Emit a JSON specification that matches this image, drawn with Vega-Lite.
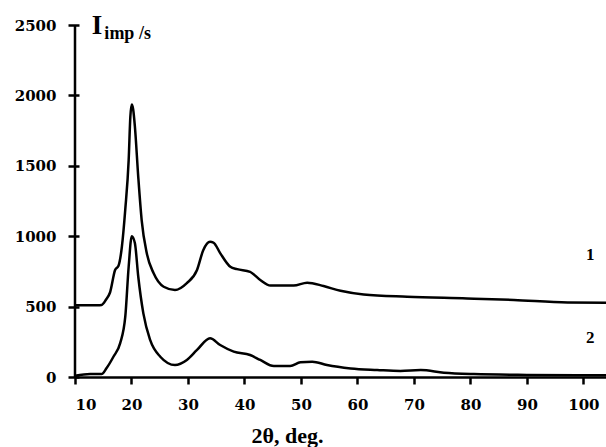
{
  "$schema": "https://vega.github.io/schema/vega-lite/v6.json",
  "width": 531,
  "height": 352,
  "autosize": "none",
  "padding": {"left": 75, "top": 25, "right": 0, "bottom": 70},
  "background": "white",
  "config": {
    "view": {"stroke": null},
    "axis": {
      "grid": false,
      "domainColor": "black",
      "domainWidth": 2.5,
      "tickColor": "black",
      "tickWidth": 2.5,
      "tickSize": 7,
      "labelFont": "DejaVu Serif",
      "labelFontWeight": "bold",
      "labelFontSize": 15,
      "labelColor": "black",
      "titleFont": "Liberation Serif",
      "titleFontWeight": "bold",
      "titleColor": "black"
    }
  },
  "datasets": {
    "curves": [
      {"angle": 10, "intensity": 510, "curve": "1"},
      {"angle": 12, "intensity": 510, "curve": "1"},
      {"angle": 14, "intensity": 510, "curve": "1"},
      {"angle": 14.7, "intensity": 512, "curve": "1"},
      {"angle": 15.5, "intensity": 550, "curve": "1"},
      {"angle": 16.2, "intensity": 600, "curve": "1"},
      {"angle": 17.1, "intensity": 760, "curve": "1"},
      {"angle": 17.7, "intensity": 790, "curve": "1"},
      {"angle": 18.3, "intensity": 925, "curve": "1"},
      {"angle": 18.9, "intensity": 1190, "curve": "1"},
      {"angle": 19.5, "intensity": 1540, "curve": "1"},
      {"angle": 19.8, "intensity": 1850, "curve": "1"},
      {"angle": 20.05, "intensity": 1935, "curve": "1"},
      {"angle": 20.3, "intensity": 1900, "curve": "1"},
      {"angle": 20.6, "intensity": 1780, "curve": "1"},
      {"angle": 21.2, "intensity": 1420, "curve": "1"},
      {"angle": 21.8, "intensity": 1115, "curve": "1"},
      {"angle": 22.7, "intensity": 880, "curve": "1"},
      {"angle": 23.9, "intensity": 738, "curve": "1"},
      {"angle": 25.7, "intensity": 641, "curve": "1"},
      {"angle": 27.7, "intensity": 618, "curve": "1"},
      {"angle": 29.8, "intensity": 667, "curve": "1"},
      {"angle": 31.6, "intensity": 760, "curve": "1"},
      {"angle": 32.7, "intensity": 900, "curve": "1"},
      {"angle": 33.9, "intensity": 960, "curve": "1"},
      {"angle": 34.5, "intensity": 955, "curve": "1"},
      {"angle": 35.7, "intensity": 880, "curve": "1"},
      {"angle": 37.5, "intensity": 783, "curve": "1"},
      {"angle": 38.7, "intensity": 766, "curve": "1"},
      {"angle": 41, "intensity": 747, "curve": "1"},
      {"angle": 42.8, "intensity": 689, "curve": "1"},
      {"angle": 44.6, "intensity": 649, "curve": "1"},
      {"angle": 48.7, "intensity": 649, "curve": "1"},
      {"angle": 51.1, "intensity": 670, "curve": "1"},
      {"angle": 54, "intensity": 646, "curve": "1"},
      {"angle": 57, "intensity": 612, "curve": "1"},
      {"angle": 61.1, "intensity": 586, "curve": "1"},
      {"angle": 68.8, "intensity": 570, "curve": "1"},
      {"angle": 79.4, "intensity": 558, "curve": "1"},
      {"angle": 87.7, "intensity": 547, "curve": "1"},
      {"angle": 97.2, "intensity": 530, "curve": "1"},
      {"angle": 104, "intensity": 528, "curve": "1"},
      {"angle": 10, "intensity": 9, "curve": "2"},
      {"angle": 12.7, "intensity": 21, "curve": "2"},
      {"angle": 14.7, "intensity": 21, "curve": "2"},
      {"angle": 15.6, "intensity": 64, "curve": "2"},
      {"angle": 16.8, "intensity": 144, "curve": "2"},
      {"angle": 18, "intensity": 241, "curve": "2"},
      {"angle": 18.9, "intensity": 428, "curve": "2"},
      {"angle": 19.5, "intensity": 783, "curve": "2"},
      {"angle": 20.05, "intensity": 1000, "curve": "2"},
      {"angle": 20.6, "intensity": 951, "curve": "2"},
      {"angle": 21.2, "intensity": 712, "curve": "2"},
      {"angle": 22.1, "intensity": 452, "curve": "2"},
      {"angle": 23.3, "intensity": 263, "curve": "2"},
      {"angle": 25.1, "intensity": 144, "curve": "2"},
      {"angle": 27.7, "intensity": 85, "curve": "2"},
      {"angle": 29.8, "intensity": 121, "curve": "2"},
      {"angle": 31.6, "intensity": 192, "curve": "2"},
      {"angle": 33.9, "intensity": 275, "curve": "2"},
      {"angle": 35.7, "intensity": 227, "curve": "2"},
      {"angle": 38.1, "intensity": 180, "curve": "2"},
      {"angle": 41, "intensity": 156, "curve": "2"},
      {"angle": 42.8, "intensity": 121, "curve": "2"},
      {"angle": 45.2, "intensity": 78, "curve": "2"},
      {"angle": 48.1, "intensity": 78, "curve": "2"},
      {"angle": 49.9, "intensity": 104, "curve": "2"},
      {"angle": 52, "intensity": 109, "curve": "2"},
      {"angle": 54.6, "intensity": 85, "curve": "2"},
      {"angle": 58.8, "intensity": 61, "curve": "2"},
      {"angle": 63.5, "intensity": 50, "curve": "2"},
      {"angle": 67.6, "intensity": 43, "curve": "2"},
      {"angle": 71.2, "intensity": 50, "curve": "2"},
      {"angle": 75.3, "intensity": 31, "curve": "2"},
      {"angle": 80.6, "intensity": 21, "curve": "2"},
      {"angle": 90, "intensity": 15, "curve": "2"},
      {"angle": 104, "intensity": 12, "curve": "2"}
    ],
    "curveLabels": [
      {"angle": 101.2, "intensity": 866, "label": "1"},
      {"angle": 101.2, "intensity": 277, "label": "2"}
    ],
    "yTitleMain": [
      {"angle": 13.9, "intensity": 2490, "label": "I"}
    ],
    "yTitleSub": [
      {"angle": 15.2, "intensity": 2435, "label": "imp /s"}
    ]
  },
  "layer": [
    {
      "data": {"name": "curves"},
      "mark": {"type": "line", "color": "black", "strokeWidth": 2.5, "strokeJoin": "round", "interpolate": "monotone"},
      "encoding": {
        "x": {
          "field": "angle", "type": "quantitative",
          "scale": {"domain": [10, 104], "nice": false, "zero": false},
          "axis": {
            "values": [10, 20, 30, 40, 50, 60, 70, 80, 90, 100],
            "format": "d",
            "labelPadding": 13,
            "title": "2θ, deg.",
            "titleFontSize": 22,
            "titleX": 212,
            "titleY": 65,
            "titleBaseline": "alphabetic"
          }
        },
        "y": {
          "field": "intensity", "type": "quantitative",
          "scale": {"domain": [0, 2500], "nice": false},
          "axis": {
            "values": [0, 500, 1000, 1500, 2000, 2500],
            "format": "d",
            "offset": -4,
            "tickSize": 11,
            "domain": false,
            "labelPadding": 12,
            "title": null
          }
        },
        "detail": {"field": "curve"}
      }
    },
    {
      "data": {"values": [{"angle": 10}]},
      "mark": {"type": "rule", "color": "black", "strokeWidth": 2.5},
      "encoding": {
        "x": {"field": "angle", "type": "quantitative"}
      }
    },
    {
      "data": {"name": "curveLabels"},
      "mark": {"type": "text", "font": "Liberation Serif", "fontWeight": "bold", "fontSize": 17, "color": "black", "baseline": "middle", "align": "center"},
      "encoding": {
        "x": {"field": "angle", "type": "quantitative"},
        "y": {"field": "intensity", "type": "quantitative"},
        "text": {"field": "label"}
      }
    },
    {
      "data": {"name": "yTitleMain"},
      "mark": {"type": "text", "font": "Liberation Serif", "fontWeight": "bold", "fontSize": 27, "color": "black", "baseline": "middle", "align": "center", "clip": false},
      "encoding": {
        "x": {"field": "angle", "type": "quantitative"},
        "y": {"field": "intensity", "type": "quantitative"},
        "text": {"field": "label"}
      }
    },
    {
      "data": {"name": "yTitleSub"},
      "mark": {"type": "text", "font": "Liberation Serif", "fontWeight": "bold", "fontSize": 18, "color": "black", "baseline": "middle", "align": "left", "clip": false},
      "encoding": {
        "x": {"field": "angle", "type": "quantitative"},
        "y": {"field": "intensity", "type": "quantitative"},
        "text": {"field": "label"}
      }
    }
  ]
}
